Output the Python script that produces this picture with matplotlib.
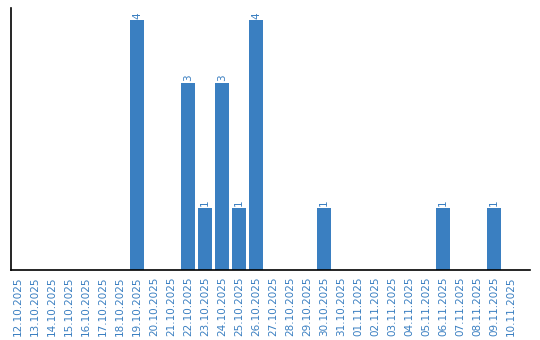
import matplotlib
matplotlib.use("Agg")
import matplotlib.pyplot as plt
import pandas as pd

dates = [d.strftime("%d.%m.%Y") for d in pd.date_range("2025-10-12", "2025-11-10")]
counts = {"19.10.2025": 4, "22.10.2025": 3, "23.10.2025": 1, "24.10.2025": 3,
          "25.10.2025": 1, "26.10.2025": 4, "30.10.2025": 1, "06.11.2025": 1,
          "09.11.2025": 1}
values = [counts.get(d, 0) for d in dates]

color = "#3a7fc1"
fig = plt.figure(figsize=(5.4, 3.4), dpi=100)
ax = fig.add_axes([11 / 540, 70 / 340, 519 / 540, 262 / 340])
x = list(range(len(dates)))
ax.bar(x, values, width=0.82, color=color)
for xi, v in zip(x, values):
    if v > 0:
        ax.text(xi, v + 0.03, str(v), rotation=90, ha="center", va="bottom",
                fontsize=7.5, color=color)
ax.set_xlim(-0.41, 30.12)
ax.set_ylim(0, 4.2)
ax.set_xticks(x)
ax.set_xticklabels(dates, rotation=90, fontsize=7.5, color=color)
ax.tick_params(axis="x", length=0, pad=5)
ax.set_yticks([])
ax.spines["top"].set_visible(False)
ax.spines["right"].set_visible(False)
ax.spines["left"].set_linewidth(1.2)
ax.spines["bottom"].set_linewidth(1.2)
fig.savefig("out.png", dpi=100)
